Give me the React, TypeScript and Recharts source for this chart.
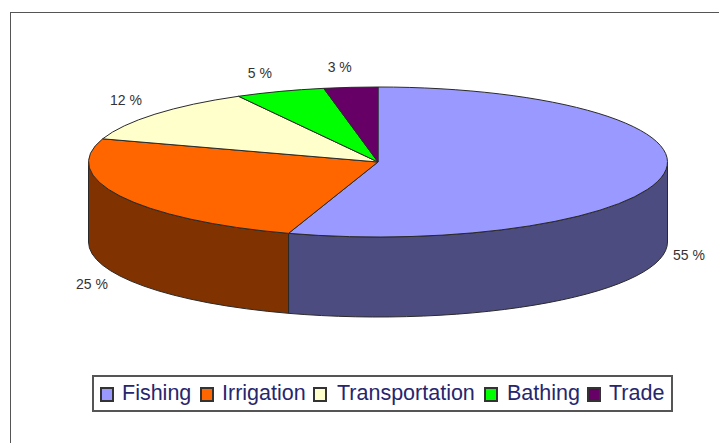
import React from 'react';
import { PieChart, Pie, Legend } from 'recharts';

const categories = ['Fishing', 'Irrigation', 'Transportation', 'Bathing', 'Trade'];
const shares = [55, 25, 12, 5, 3];
const topColors = ['#9999ff', '#ff6600', '#ffffcc', '#00ff00', '#660066'];
const wallColors = ['#4c4c80', '#803300', '#80805f', '#008000', '#330033'];

const CX = 378;
const CY = 162;
const RX = 289.5;
const RY = 75;
const DEPTH = 80;
const STROKE = '#2a2a2a';

const labelOffsets: [number, number][] = [
  [25, 1],
  [-28, 8],
  [-29, -14],
  [-20, -18],
  [-11, -20],
];
const legendIconX = [100, 200, 313, 484, 587];
const legendTextX = [122, 222, 337, 507, 609];

const tableData = categories.map((name, i) => ({
  name,
  value: shares[i],
  fill: topColors[i],
  wall: wallColors[i],
}));

const RAD = Math.PI / 180;
const px = (cx: number, a: number) => cx + (RX * Math.cos(a * RAD));
const py = (cy: number, a: number) => cy - (RY * Math.sin(a * RAD));

function topShape(p: any) {
  const { cx, cy, startAngle, endAngle, payload } = p;
  const large = Math.abs(startAngle - endAngle) > 180 ? 1 : 0;
  const d = `M${cx},${cy} L${px(cx, startAngle)},${py(cy, startAngle)} A${RX},${RY} 0 ${large} 1 ${px(cx, endAngle)},${py(cy, endAngle)} Z`;
  return <path d={d} fill={payload.fill} stroke={STROKE} strokeWidth={1} strokeLinejoin="round" />;
}

function wallShape(p: any) {
  const { cx, cy, startAngle, endAngle, payload } = p;
  const hi = Math.min(startAngle, 0);
  const lo = Math.max(endAngle, -180);
  if (hi <= lo) return <g />;
  const d = `M${px(cx, hi)},${py(cy, hi)} A${RX},${RY} 0 0 1 ${px(cx, lo)},${py(cy, lo)} L${px(cx, lo)},${py(cy, lo) + DEPTH} A${RX},${RY} 0 0 0 ${px(cx, hi)},${py(cy, hi) + DEPTH} Z`;
  return <path d={d} fill={payload.wall} stroke={STROKE} strokeWidth={1} strokeLinejoin="round" />;
}

function renderLabel(p: any) {
  const { cx, cy, midAngle, index, value } = p;
  const below = Math.sin(midAngle * RAD) < 0;
  const x = px(cx, midAngle) + labelOffsets[index][0];
  const y = py(cy, midAngle) + (below ? DEPTH : 0) + labelOffsets[index][1];
  return (
    <text x={x} y={y} textAnchor="middle" dominantBaseline="central" fontFamily="Liberation Sans" fontSize={14} fill="#333333">
      {`${value} %`}
    </text>
  );
}

function LegendBox({ payload }: any) {
  const seen = new Set<string>();
  const items = (payload || []).filter((e: any) => {
    if (e.type === 'none' || seen.has(e.value)) return false;
    seen.add(e.value);
    return true;
  });
  items.sort((a: any, b: any) => categories.indexOf(a.value) - categories.indexOf(b.value));
  return (
    <div style={{ position: 'relative', width: 581, height: 37, boxSizing: 'border-box', border: '2px solid #555', background: '#fff' }}>
      {items.map((e: any) => {
        const i = categories.indexOf(e.value);
        return (
          <React.Fragment key={e.value}>
            <div style={{ position: 'absolute', left: legendIconX[i] - 94, top: 10, width: 14, height: 15, boxSizing: 'border-box', border: '2px solid #333', background: topColors[i] }} />
            <div style={{ position: 'absolute', left: legendTextX[i] - 94, top: 3, lineHeight: '26px', fontFamily: 'Liberation Sans', fontSize: 21.5, color: '#26266e', whiteSpace: 'nowrap' }}>{e.value}</div>
          </React.Fragment>
        );
      })}
    </div>
  );
}

export default function App() {
  return (
    <div style={{ position: 'absolute', left: 0, top: 0, width: 719, height: 443, background: '#fff', overflow: 'hidden' }}>
      <div style={{ position: 'absolute', left: 10, top: 12, width: 709, height: 431, boxSizing: 'border-box', borderTop: '1.5px solid #555', borderLeft: '1.5px solid #555' }} />
      <PieChart width={719} height={443} margin={{ top: 0, right: 0, bottom: 0, left: 0 }} style={{ position: 'absolute', left: 0, top: 0 }}>
        <Pie data={tableData} dataKey="value" nameKey="name" cx={CX} cy={CY} outerRadius={RX} startAngle={90} endAngle={-270} paddingAngle={0} stroke="none" legendType="none" shape={wallShape} label={false} labelLine={false} isAnimationActive={false} />
        <Pie data={tableData} dataKey="value" nameKey="name" cx={CX} cy={CY} outerRadius={RX} startAngle={90} endAngle={-270} paddingAngle={0} stroke="none" shape={topShape} label={renderLabel} labelLine={false} isAnimationActive={false} />
        <Legend content={<LegendBox />} wrapperStyle={{ position: 'absolute', left: 92, top: 375, width: 581, height: 37 }} />
      </PieChart>
    </div>
  );
}
